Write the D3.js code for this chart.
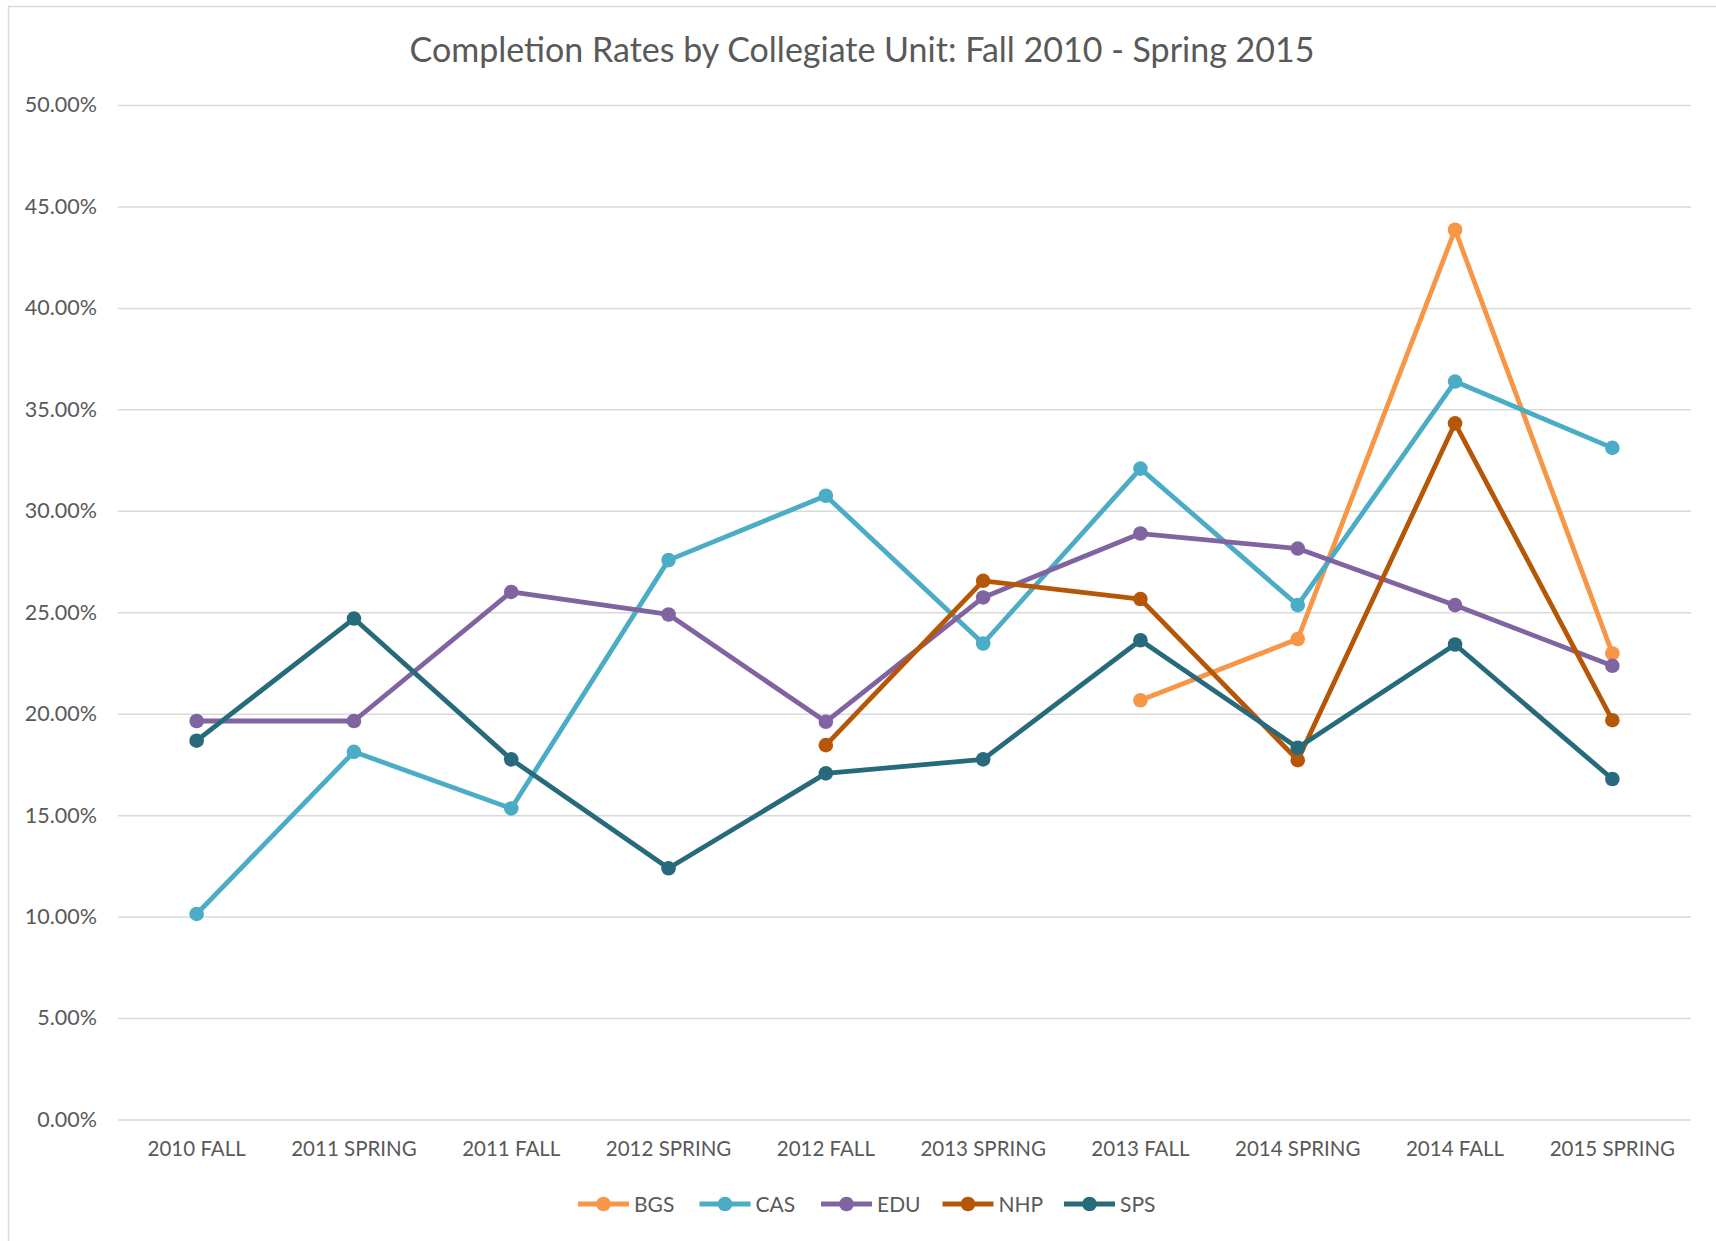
<!DOCTYPE html>
<html>
<head>
<meta charset="utf-8">
<script src="https://cdn.jsdelivr.net/npm/d3@7"></script>
<style>
  body { margin: 0; background: #fff; }
  text { font-family: Lato, "Open Sans", sans-serif; fill: #595959; }
</style>
</head>
<body>
<svg width="1716" height="1241"></svg>
<script>
const terms = ['2010 FALL', '2011 SPRING', '2011 FALL', '2012 SPRING', '2012 FALL',
	'2013 SPRING', '2013 FALL', '2014 SPRING', '2014 FALL', '2015 SPRING'];

// completion rate in percent, null where the unit had no data
const bgs = [null, null, null, null, null, null, 20.66, 23.68, 43.85, 22.97];
const cas = [10.13, 18.12, 15.33, 27.57, 30.74, 23.46, 32.08, 25.35, 36.37, 33.10];
const edu = [19.64, 19.64, 26.00, 24.89, 19.60, 25.73, 28.88, 28.14, 25.35, 22.36];
const nhp = [null, null, null, null, 18.45, 26.55, 25.65, 17.71, 34.31, 19.68];
const sps = [18.67, 24.69, 17.75, 12.38, 17.06, 17.75, 23.62, 18.32, 23.41, 16.78];

const seriesNames = ['BGS', 'CAS', 'EDU', 'NHP', 'SPS'];
const seriesValues = [bgs, cas, edu, nhp, sps];
const colors = ['#f79646', '#4bacc6', '#8064a2', '#b65708', '#276a7c'];
const yTicks = [0, 5, 10, 15, 20, 25, 30, 35, 40, 45, 50];

const svg = d3.select('svg');
const width = +svg.attr('width');
const height = +svg.attr('height');

const margin = {top: 105, right: 25, bottom: 121.5, left: 118};
const innerWidth = width - margin.left - margin.right;
const innerHeight = height - margin.top - margin.bottom;

// chart border: only the top and left edges are inside the picture
svg.append('path')
	.attr('d', `M8.5,${height} V6.5 H${width}`)
	.attr('fill', 'none')
	.attr('stroke', '#d9d9d9')
	.attr('stroke-width', 1.5);

svg.append('text')
	.attr('x', 862)
	.attr('y', 62)
	.attr('text-anchor', 'middle')
	.attr('font-size', 34)
	.text('Completion Rates by Collegiate Unit: Fall 2010 - Spring 2015');

const xScale = d3.scaleBand()
	.domain(terms)
	.range([0, innerWidth]);

const yScale = d3.scaleLinear()
	.domain([0, 50])
	.range([innerHeight, 0]);

const g = svg.append('g')
	.attr('transform', `translate(${margin.left}, ${margin.top})`);

const yAxis = d3.axisLeft(yScale)
	.tickValues(yTicks)
	.tickSize(-innerWidth)
	.tickPadding(21)
	.tickFormat(d => d.toFixed(2) + '%');

const yAxisG = g.append('g').call(yAxis);
yAxisG.select('.domain').remove();
yAxisG.selectAll('line').attr('stroke', '#d9d9d9').attr('stroke-width', 1.5);
yAxisG.selectAll('text')
	.attr('font-size', 21.5)
	.attr('fill', '#595959')
	.style('font-family', 'Lato, sans-serif');

const xAxis = d3.axisBottom(xScale)
	.tickSize(0)
	.tickPadding(22);

const xAxisG = g.append('g')
	.attr('transform', `translate(0, ${innerHeight})`)
	.call(xAxis);
xAxisG.select('.domain').remove();
xAxisG.selectAll('text')
	.attr('font-size', 20.5)
	.attr('fill', '#595959')
	.style('font-family', 'Lato, sans-serif');

const xCenter = t => xScale(t) + xScale.bandwidth() / 2;

const lineGenerator = d3.line()
	.defined(d => d.v !== null)
	.x(d => xCenter(d.t))
	.y(d => yScale(d.v));

seriesNames.forEach((name, i) => {
	const points = terms.map((t, j) => ({t, v: seriesValues[i][j]}));
	const sg = g.append('g').attr('class', 'series-' + name);
	sg.append('path')
		.attr('d', lineGenerator(points))
		.attr('fill', 'none')
		.attr('stroke', colors[i])
		.attr('stroke-width', 4.8)
		.attr('stroke-linejoin', 'round');
	sg.selectAll('circle')
		.data(points.filter(d => d.v !== null))
		.join('circle')
		.attr('cx', d => xCenter(d.t))
		.attr('cy', d => yScale(d.v))
		.attr('r', 7.3)
		.attr('fill', colors[i]);
});

// legend
const legendX = d3.scalePoint()
	.domain(seriesNames)
	.range([578, 1064]);
const legendY = 1204;

const legend = svg.append('g');
seriesNames.forEach((name, i) => {
	const x0 = legendX(name);
	const item = legend.append('g');
	item.append('line')
		.attr('x1', x0).attr('x2', x0 + 51)
		.attr('y1', legendY).attr('y2', legendY)
		.attr('stroke', colors[i])
		.attr('stroke-width', 4.8);
	item.append('circle')
		.attr('cx', x0 + 25.5).attr('cy', legendY)
		.attr('r', 7.3)
		.attr('fill', colors[i]);
	item.append('text')
		.attr('x', x0 + 56)
		.attr('y', legendY + 7.5)
		.attr('font-size', 21)
		.text(name);
});
</script>
</body>
</html>
